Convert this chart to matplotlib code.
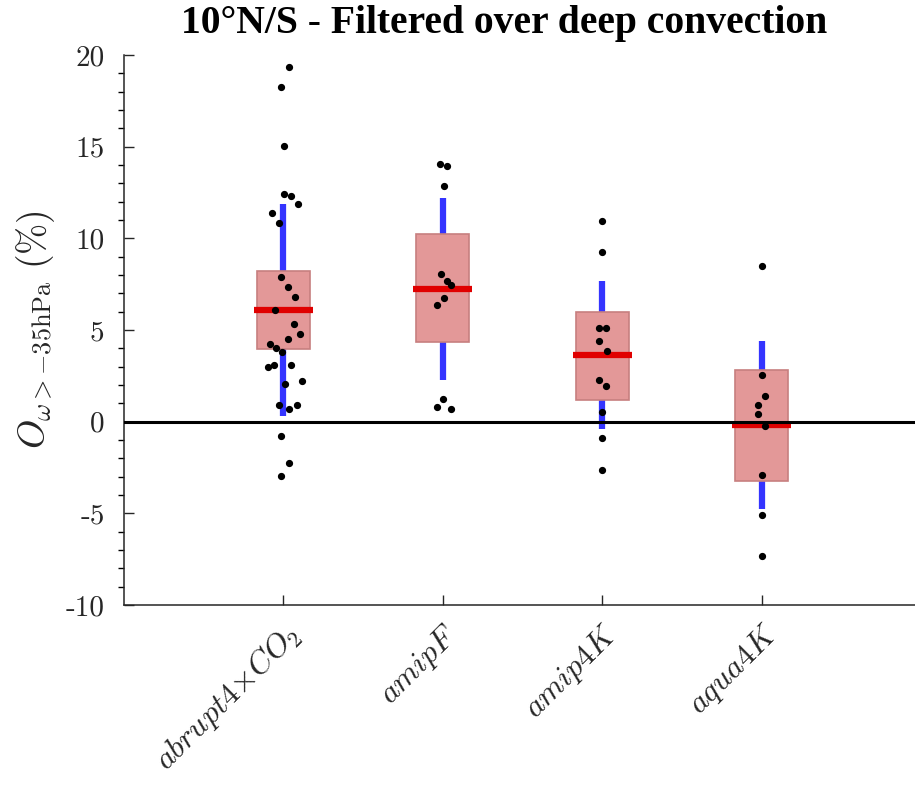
import matplotlib
matplotlib.use("Agg")
import matplotlib.pyplot as plt
from matplotlib.ticker import MultipleLocator, FixedLocator

plt.rcParams['mathtext.fontset'] = 'cm'

categories = [r'$abrupt4{\times}CO_2$', r'$amipF$', r'$amip4K$', r'$aqua4K$']

# box statistics: q1, median, q3, whisker low, whisker high
q1 = [3.97, 4.33, 1.20, -3.22]
median = [6.09, 7.23, 3.64, -0.20]
q3 = [8.20, 10.22, 6.00, 2.83]
whis_lo = [0.33, 2.30, -0.42, -4.78]
whis_hi = [11.85, 12.21, 7.68, 4.38]

# individual model values and their horizontal jitter
pts_abrupt = [19.37, 18.28, 15.02, 12.43, 12.30, 11.85, 11.40, 10.85, 7.90, 7.32,
              6.79, 6.09, 5.33, 4.78, 4.51, 4.22, 4.04, 3.79, 2.97, 3.10,
              3.10, 2.07, 2.21, 0.92, 0.71, 0.92, -0.78, -2.27, -2.97]
jit_abrupt = [0.036, -0.012, 0.006, 0.006, 0.05, 0.092, -0.069, -0.027, -0.012, 0.031,
              0.073, -0.052, 0.067, 0.104, 0.031, -0.083, -0.046, -0.006, -0.098, -0.061,
              0.046, 0.011, 0.119, -0.025, 0.036, 0.083, -0.012, 0.036, -0.012]
pts_amipF = [14.08, 13.93, 12.88, 8.04, 7.68, 7.48, 6.74, 6.38, 1.21, 0.78, 0.67]
jit_amipF = [-0.017, 0.029, 0.006, -0.014, 0.029, 0.052, 0.006, -0.038, 0.004, -0.038, 0.05]
pts_amip4K = [10.96, 9.27, 5.09, 5.09, 4.39, 3.88, 2.25, 1.92, 0.53, -0.87, -2.64]
jit_amip4K = [0, 0, -0.021, 0.025, -0.021, 0.031, -0.021, 0.025, 0, 0, 0]
pts_aqua4K = [8.50, 2.57, 1.39, 0.92, 0.43, -0.24, -2.92, -5.09, -7.32]
jit_aqua4K = [0, 0, 0.021, -0.025, -0.025, 0.021, 0, 0, 0]

points = [pts_abrupt, pts_amipF, pts_amip4K, pts_aqua4K]
jitters = [jit_abrupt, jit_amipF, jit_amip4K, jit_aqua4K]

yticks = [-10, -5, 0, 5, 10, 15, 20]
yticklabels = ['-10', '-5', '0', '5', '10', '15', '20']

W, H = 915, 785
fig = plt.figure(figsize=(W / 100, H / 100), dpi=100)
ax = fig.add_axes([124 / W, 1 - 605 / H, (921 - 124) / W, (605 - 55) / H])

pos = [1, 2, 3, 4]
box_w = 0.33
med_w = 0.37

# whiskers
for x, lo, a, b, hi in zip(pos, whis_lo, q1, q3, whis_hi):
    ax.vlines([x, x], [lo, b], [a, hi], color='#3434ff', lw=4.5, zorder=2)

# boxes
ax.bar(pos, [b - a for a, b in zip(q1, q3)], bottom=q1, width=box_w,
       color='#e39898', edgecolor='#c77f7f', lw=1.2, zorder=3)

# medians
ax.hlines(median, [p - med_w / 2 for p in pos], [p + med_w / 2 for p in pos],
          color='#e00000', lw=4.5, zorder=4)

# zero line
ax.axhline(0, color='black', lw=2.2, zorder=5)

# points
for p, vals, jit in zip(pos, points, jitters):
    ax.plot([p + j for j in jit], vals, 'o', color='black', ms=4.2, zorder=6, ls='none')

ax.set_xlim(0.0, 5.0)
ax.set_ylim(-10, 20)

ax.spines['top'].set_visible(False)
ax.spines['right'].set_visible(False)
for s in ['left', 'bottom']:
    ax.spines[s].set_color('#262626')
    ax.spines[s].set_linewidth(1.1)

ax.set_xticks(pos)
ax.set_xticklabels(categories, rotation=45, ha='right', rotation_mode='anchor',
                   fontsize=23)
ax.yaxis.set_major_locator(FixedLocator(yticks))
ax.set_yticklabels(yticklabels, family='cmr10', fontsize=21, color='#262626')
ax.yaxis.set_minor_locator(MultipleLocator(1))
ax.tick_params(axis='both', direction='in', colors='#262626')
ax.tick_params(axis='y', which='major', length=7, width=1, pad=14)
ax.tick_params(axis='y', which='minor', length=4, width=1)
ax.tick_params(axis='x', which='major', length=7, width=1, pad=10)

ax.set_ylabel(r'$O_{\omega>-35\mathrm{hPa}}\ (\%)$', fontsize=27, color='#262626', labelpad=6)

fig.text(504 / W, 1 - 24 / H, '10°N/S - Filtered over deep convection',
         ha='center', va='center', fontsize=28.5, fontweight='bold',
         family='Liberation Serif')

fig.savefig('out.png', dpi=100)
